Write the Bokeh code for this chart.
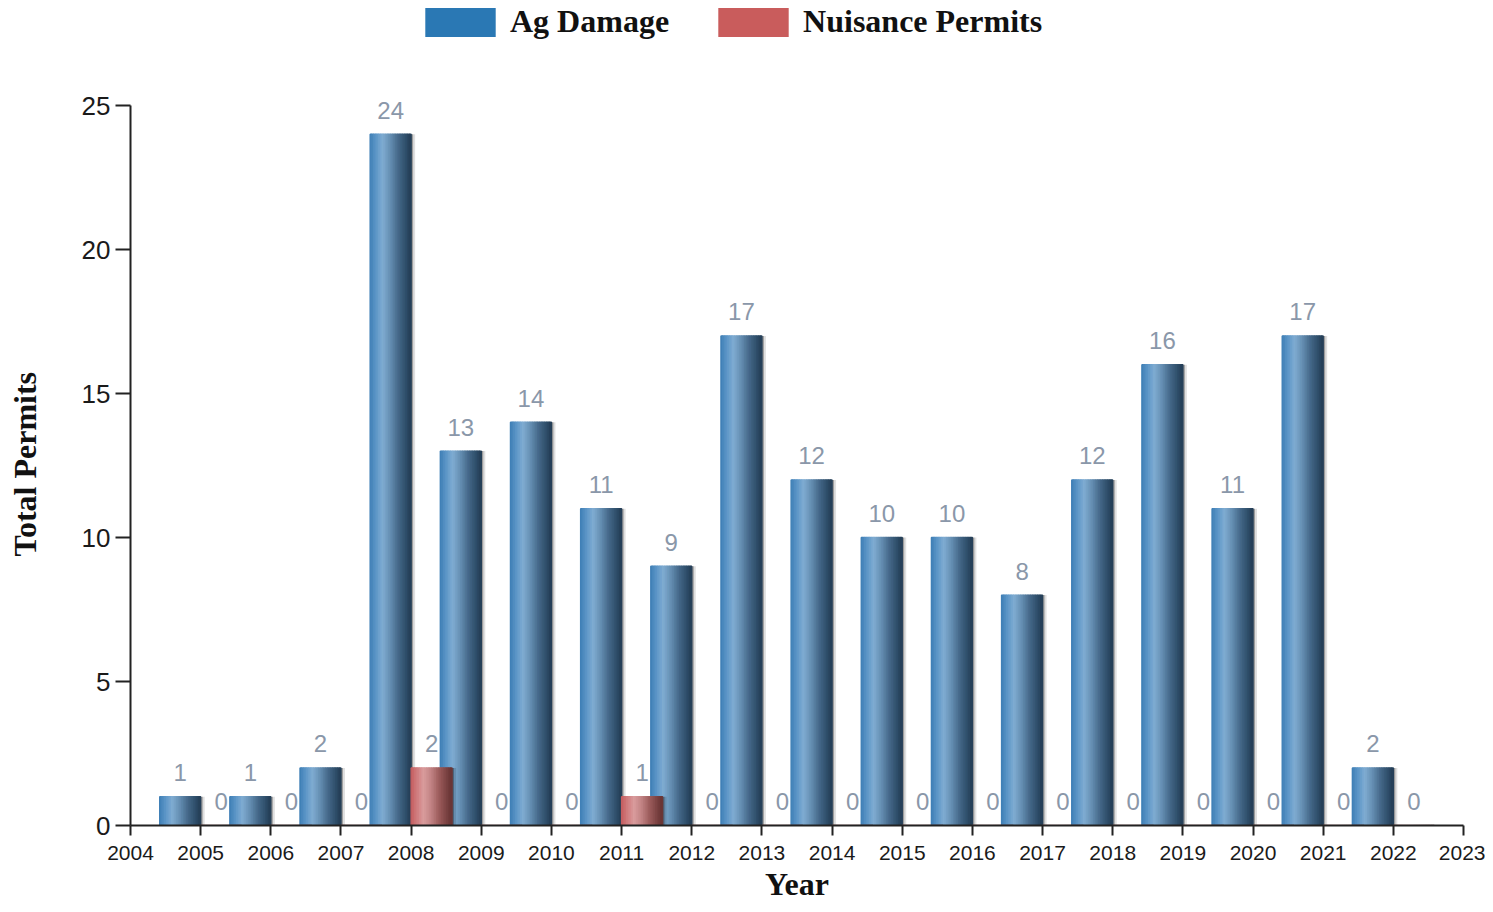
from bokeh.plotting import figure
from bokeh.models import ColumnDataSource, Range1d, FixedTicker, Legend, LegendItem, Title
from bokeh.transform import dodge
from bokeh.core.properties import value
from bokeh.embed import file_html
from bokeh.resources import INLINE

# ---------------- data ----------------
years = [2005, 2006, 2007, 2008, 2009, 2010, 2011, 2012, 2013,
         2014, 2015, 2016, 2017, 2018, 2019, 2020, 2021, 2022]
ag_damage = [1, 1, 2, 24, 13, 14, 11, 9, 17, 12, 10, 10, 8, 12, 16, 11, 17, 2]
nuisance_permits = [0, 0, 0, 2, 0, 0, 1, 0, 0, 0, 0, 0, 0, 0, 0, 0, 0, 0]
x_ticks = [2004, 2005, 2006, 2007, 2008, 2009, 2010, 2011, 2012, 2013,
           2014, 2015, 2016, 2017, 2018, 2019, 2020, 2021, 2022, 2023]
y_ticks = [0, 5, 10, 15, 20, 25]
series_names = ["Ag Damage", "Nuisance Permits"]
x_title = "Year"
y_title = "Total Permits"

source = ColumnDataSource(dict(
    year=years,
    ag=ag_damage,
    nu=nuisance_permits,
    ag_lbl=[str(v) for v in ag_damage],
    nu_lbl=[str(v) for v in nuisance_permits],
))

# ---------------- style helpers ----------------
def hex_to_rgb(h):
    h = h.lstrip("#")
    return tuple(int(h[i:i + 2], 16) for i in (0, 2, 4))

def grad(stops, t):
    for (t0, c0), (t1, c1) in zip(stops[:-1], stops[1:]):
        if t0 <= t <= t1:
            f = (t - t0) / (t1 - t0) if t1 > t0 else 0
            a, b = hex_to_rgb(c0), hex_to_rgb(c1)
            return "#%02x%02x%02x" % tuple(int(round(a[k] + (b[k] - a[k]) * f)) for k in range(3))
    return stops[-1][1]

blue_stops = [(0.0, "#3c7db5"), (0.15, "#5b95c6"), (0.32, "#80acd2"),
              (0.5, "#6690b4"), (0.7, "#46698a"), (0.88, "#30506c"), (1.0, "#243d55")]
red_stops = [(0.0, "#c45a5d"), (0.15, "#cf7b7d"), (0.32, "#d99c9d"),
             (0.5, "#c28384"), (0.7, "#9c5c5c"), (0.88, "#7b4242"), (1.0, "#673434")]

BW = 0.584        # bar width in x units
N = 24            # gradient strips
SW = BW / N
PX = 19 / 1333.0  # one pixel in x data units

# layout: frame spans from the top of the canvas to the x axis; the y axis
# is bounded to 0..25 so the space above 25 holds the legend
FRAME_H = 825
PLOT_H = 720
Y_TOP = y_ticks[-1] * FRAME_H / PLOT_H

p = figure(width=1485, height=904, output_backend="svg", toolbar_location=None,
           x_range=Range1d(2004, 2023), y_range=Range1d(0, Y_TOP),
           min_border_left=130, min_border_right=22, min_border_top=0, min_border_bottom=79)
p.outline_line_color = None
p.xgrid.visible = False
p.ygrid.visible = False
p.background_fill_color = "white"
p.border_fill_color = "white"

for side, sign in (("ag", -1), ("nu", 1)):
    # soft drop shadow
    for off_px, alpha in ((4, 0.12), (2, 0.3)):
        p.vbar(x=dodge("year", sign * BW / 2 + off_px * PX, range=p.x_range), top=side,
               width=BW, source=source, fill_color="black", fill_alpha=alpha,
               line_color=None)
    # gradient strips
    stops = blue_stops if side == "ag" else red_stops
    start = -BW if side == "ag" else 0.0
    for i in range(N):
        c = grad(stops, (i + 0.5) / N)
        p.vbar(x=dodge("year", start + (i + 0.5) * SW, range=p.x_range), top=side,
               width=SW, source=source, fill_color=c, line_color=c, line_width=1.4)

# value labels
for side, lbl, sign in (("ag", "ag_lbl", -1), ("nu", "nu_lbl", 1)):
    p.text(x=dodge("year", sign * BW / 2, range=p.x_range), y=side, text=lbl, source=source,
           text_align="center", text_baseline="alphabetic", y_offset=-24,
           text_font=value("Liberation Sans"), text_font_size="24px", text_color="#8a97a9")

# legend (zero-height proxy renderers carrying the solid legend colours)
proxy = ColumnDataSource(dict(x=[years[0]], top=[0]))
r_ag = p.vbar(x="x", top="top", width=BW, source=proxy, fill_color="#2a78b4", line_color=None)
r_nu = p.vbar(x="x", top="top", width=BW, source=proxy, fill_color="#c95c5c", line_color=None)
legend = Legend(items=[LegendItem(label=series_names[0], renderers=[r_ag]),
                       LegendItem(label=series_names[1], renderers=[r_nu])],
                location=(286, 785), orientation="horizontal",
                glyph_width=88, glyph_height=36, label_height=36, label_standoff=6,
                spacing=40, padding=0, margin=0,
                border_line_alpha=0, background_fill_alpha=0,
                label_text_font="Liberation Serif", label_text_font_style="bold",
                label_text_font_size="32px", label_text_color="#111111")
p.add_layout(legend, "center")

# axes
p.xaxis.ticker = FixedTicker(ticks=x_ticks)
p.yaxis.ticker = FixedTicker(ticks=y_ticks)
p.yaxis.bounds = (y_ticks[0], y_ticks[-1])
for ax in (p.xaxis[0], p.yaxis[0]):
    ax.axis_line_color = "#222222"
    ax.axis_line_width = 2
    ax.major_tick_line_color = "#222222"
    ax.major_tick_line_width = 2
    ax.minor_tick_out = 0
    ax.minor_tick_in = 0
    ax.major_tick_in = 0
    ax.major_label_text_font = "Liberation Sans"
    ax.major_label_text_color = "#1a1a1a"
    ax.axis_label_text_font = "Liberation Serif"
    ax.axis_label_text_font_style = "bold"
    ax.axis_label_text_color = "#111111"
    ax.axis_label_text_font_size = "32px"

p.xaxis.major_tick_out = 10
p.xaxis.major_label_standoff = 10
p.xaxis.major_label_text_font_size = "21px"
p.xaxis.axis_label = x_title
p.xaxis.axis_label_standoff = 3

p.yaxis.major_tick_out = 15
p.yaxis.major_label_standoff = 5
p.yaxis.major_label_text_font_size = "26px"
# blank, tiny axis label used only as a spacer between tick labels and the title
p.yaxis.axis_label = "\u00a0"
p.yaxis.axis_label_text_font_size = "2px"
p.yaxis.axis_label_standoff = 31

# y title centred on the 0..25 part of the axis
ytitle = Title(text=y_title, align="left", offset=269, standoff=0,
               text_font="Liberation Serif", text_font_style="bold",
               text_font_size="32px", text_color="#111111")
p.add_layout(ytitle, "left")

open("out.html", "w").write(file_html(p, INLINE))
